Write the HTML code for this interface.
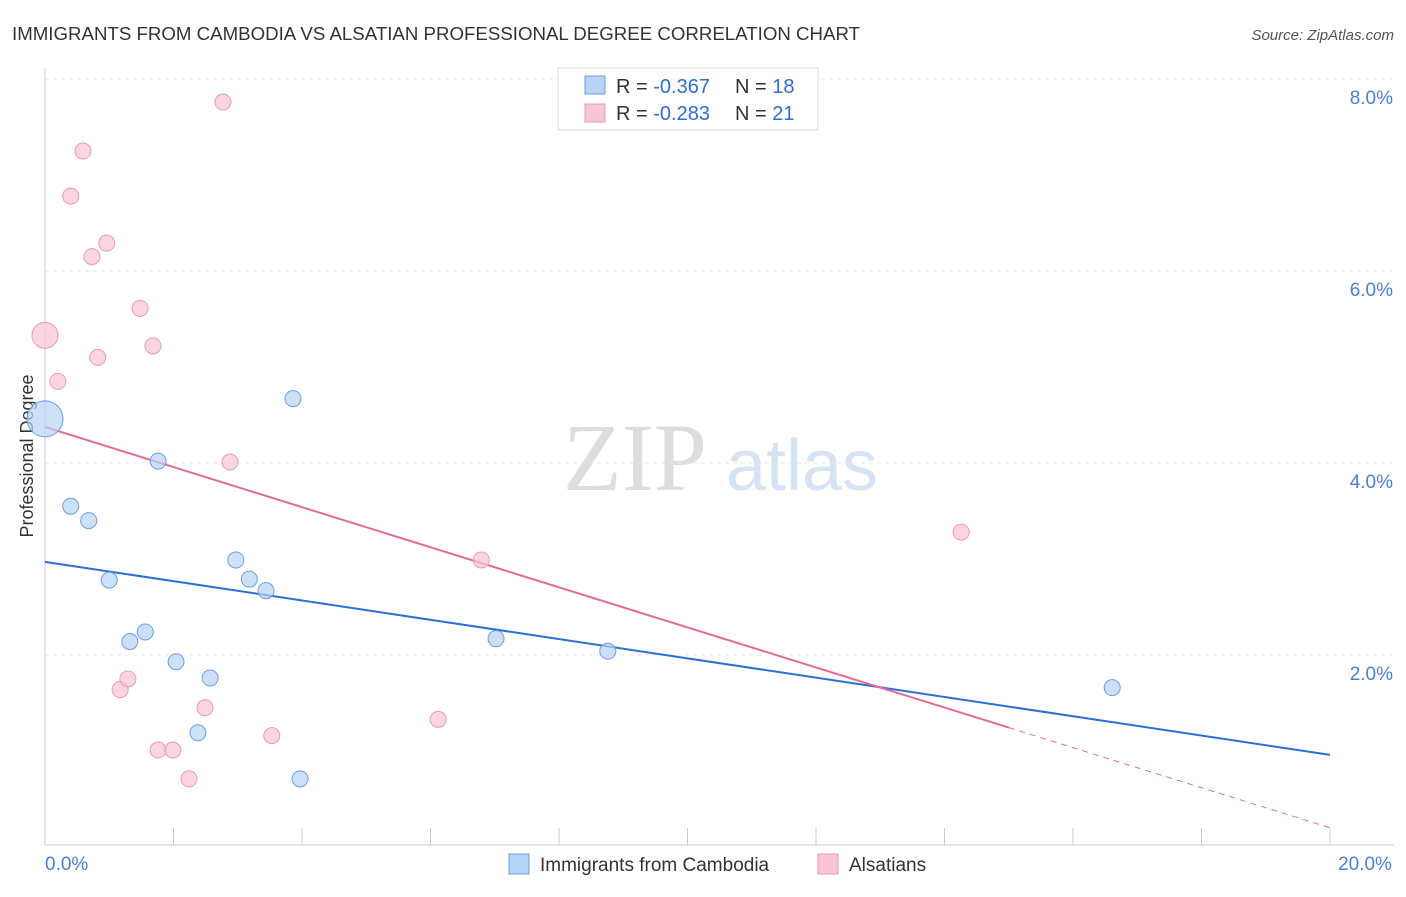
<!DOCTYPE html>
<html><head><meta charset="utf-8"><style>
body{margin:0;background:#fff;font-family:"Liberation Sans",sans-serif;}
svg text{font-family:"Liberation Sans",sans-serif;}
</style></head><body>
<svg width="1406" height="892" id="chart">
<text x="12" y="40" font-size="18" fill="#333" textLength="848" lengthAdjust="spacingAndGlyphs">IMMIGRANTS FROM CAMBODIA VS ALSATIAN PROFESSIONAL DEGREE CORRELATION CHART</text>
<text x="1394" y="40" font-size="15" fill="#555" font-style="italic" text-anchor="end">Source: ZipAtlas.com</text>
<text x="33" y="456" font-size="18" fill="#333" text-anchor="middle" transform="rotate(-90 33 456)">Professional Degree</text>
<g>
<text x="635" y="490" font-size="96" fill="#ddd" font-family="Liberation Serif" text-anchor="middle" style="font-family:'Liberation Serif',serif">ZIP</text>
<text x="802" y="490" font-size="72" fill="#d5e3f5" text-anchor="middle">atlas</text>
</g>
<g id="grid"></g><g id="axes"></g><g id="lines"></g><g id="points"></g>
<g>
<rect x="558" y="68" width="260" height="62" fill="#fff" stroke="#ddd"/>
<rect x="585" y="76" width="20" height="18" fill="#b7d3f5" stroke="#6a9fe0"/>
<text x="616" y="93" font-size="20" fill="#333">R = <tspan fill="#2b6fd6">-0.367</tspan></text>
<text x="735" y="93" font-size="20" fill="#333">N = <tspan fill="#2b6fd6">18</tspan></text>
<rect x="585" y="104" width="20" height="18" fill="#f9c5d5" stroke="#e89ab3"/>
<text x="616" y="120" font-size="20" fill="#333">R = <tspan fill="#2b6fd6">-0.283</tspan></text>
<text x="735" y="120" font-size="20" fill="#333">N = <tspan fill="#2b6fd6">21</tspan></text>
</g>
<g>
<rect x="509" y="854" width="20" height="20" fill="#b7d3f5" stroke="#6a9fe0"/>
<text x="540" y="871" font-size="19" fill="#333">Immigrants from Cambodia</text>
<rect x="818" y="854" width="20" height="20" fill="#f9c5d5" stroke="#e89ab3"/>
<text x="849" y="871" font-size="19" fill="#333">Alsatians</text>
</g>
</svg>
<script>
const blueX=[0,0.40,0.68,1.00,1.32,1.56,1.76,2.04,2.38,2.57,2.97,3.18,3.44,3.86,3.97,7.02,8.76,16.61];
const blueY=[4.46,3.55,3.40,2.78,2.14,2.24,4.02,1.93,1.19,1.76,2.99,2.79,2.67,4.67,0.71,2.17,2.04,1.66];
const pinkX=[0,0.20,0.40,0.59,0.73,0.82,0.96,1.17,1.29,1.48,1.68,1.76,1.99,2.24,2.49,2.77,2.88,3.53,6.12,6.79,14.26];
const pinkY=[5.33,4.85,6.78,7.25,6.15,5.10,6.29,1.64,1.75,5.61,5.22,1.01,1.01,0.71,1.45,7.76,4.01,1.16,1.33,2.99,3.28];
const yTicks=[2,4,6,8];
const xTickLabels=["0.0%","20.0%"];
const blueTrend=[2.97,0.96];
const pinkTrend=[4.375,0.2];
const NS="http://www.w3.org/2000/svg";
const sx=v=>45+v/20*1285, sy=v=>847-v*96;
function mk(tag,attrs,parent){const e=document.createElementNS(NS,tag);for(const k in attrs)e.setAttribute(k,attrs[k]);document.getElementById(parent).appendChild(e);return e;}
yTicks.forEach(t=>{
 const l=mk('line',{x1:45,x2:1394,y1:sy(t),y2:sy(t),stroke:'#e6e6e6','stroke-dasharray':'4,4'},'grid');
 
 
 const tx=mk('text',{x:1393,y:sy(t)+25,'font-size':19,fill:'#4a7fd6','text-anchor':'end'},'grid');
 tx.textContent=t.toFixed(1)+'%';
 
 
});
const ax=mk('line',{x1:45,x2:45,y1:68,y2:845,stroke:'#ccc'},'axes');


const bx=mk('line',{x1:45,x2:1394,y1:845,y2:845,stroke:'#ccc'},'axes');


for(let i=1;i<=10;i++){const t=mk('line',{x1:sx(i*2),x2:sx(i*2),y1:828,y2:845,stroke:'#ccc'},'axes');
 
 }
[[0,'start',45],[20,'middle',1365]].forEach((d,i)=>{const t=mk('text',{x:d[2],y:870,'font-size':19,fill:'#4a7fd6','text-anchor':d[1]},'axes');t.textContent=xTickLabels[i];
 
 });
const bl=mk('line',{x1:sx(0),y1:sy(blueTrend[0]),x2:sx(20),y2:sy(blueTrend[1]),stroke:'#2b6fd6','stroke-width':2},'lines');


const pAt=x=>pinkTrend[0]+(pinkTrend[1]-pinkTrend[0])*x/20;
const pl=mk('line',{x1:sx(0),y1:sy(pinkTrend[0]),x2:sx(15),y2:sy(pAt(15)),stroke:'#e36b96','stroke-width':2},'lines');


const pd=mk('line',{x1:sx(15),y1:sy(pAt(15)),x2:sx(20),y2:sy(pinkTrend[1]),stroke:'#e36b96','stroke-width':1,'stroke-dasharray':'6,5'},'lines');


pinkX.forEach((x,i)=>{const c=mk('circle',{cx:sx(x),cy:sy(pinkY[i]),r:i==0?13:8,fill:'#f9c5d5','fill-opacity':0.7,stroke:'#e89ab3'},'points');
 
 });
blueX.forEach((x,i)=>{const c=mk('circle',{cx:sx(x),cy:sy(blueY[i]),r:i==0?18:8,fill:'#b7d3f5','fill-opacity':0.7,stroke:'#6a9fe0'},'points');
 
 });
</script>
</body></html>
